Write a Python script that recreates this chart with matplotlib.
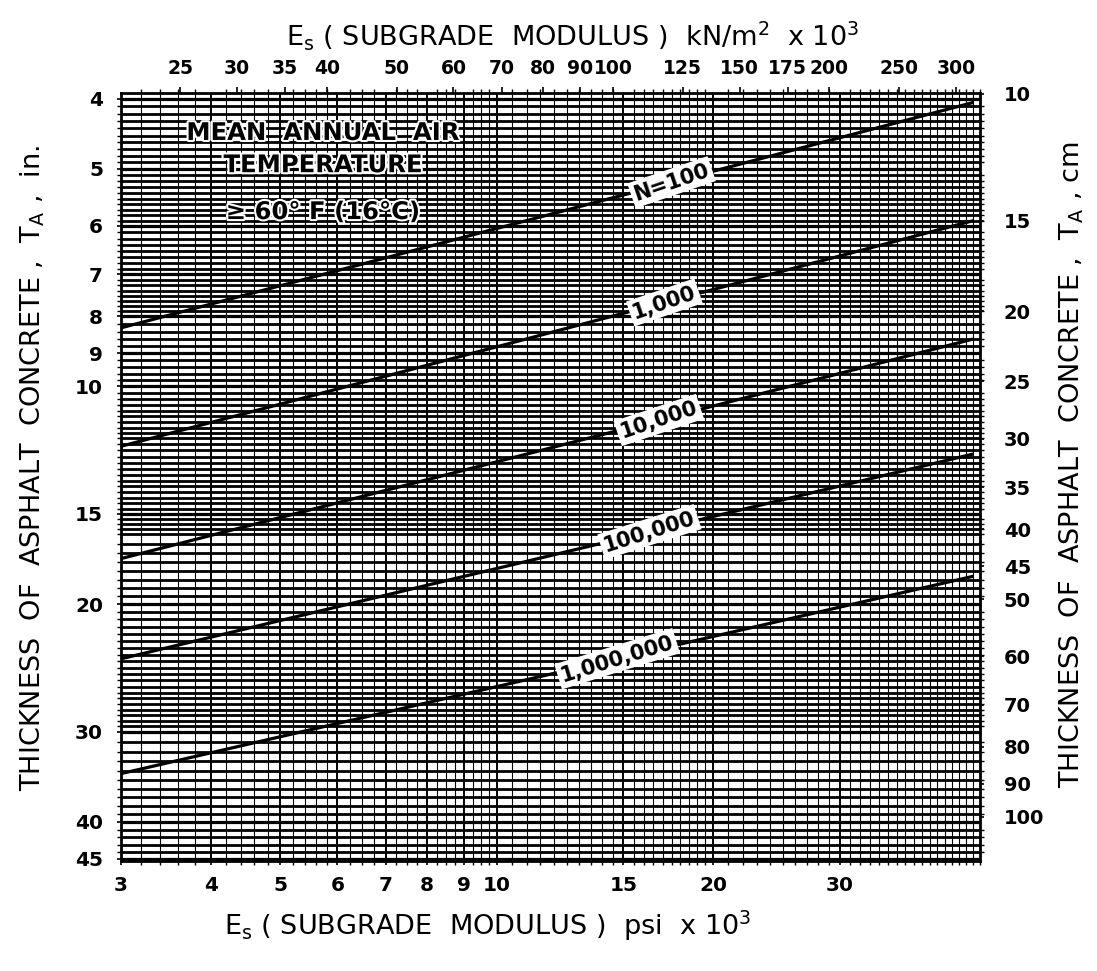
import numpy as np
import matplotlib
matplotlib.use("Agg")
import matplotlib.pyplot as plt
import matplotlib.patheffects as pe
from matplotlib.ticker import FixedLocator, NullFormatter

# ---------------- data ----------------
repetitions = ["N=100", "1,000", "10,000", "100,000", "1,000,000"]
es_psi_ends = [3.0, 46.0]                             # Es, psi x 10^3, line ends
thickness_at_left = [8.3, 12.1, 17.3, 23.8, 34.3]     # T_A (in) at Es = 3
thickness_at_right = [4.05, 5.9, 8.6, 12.4, 18.3]     # T_A (in) at Es = 46
label_es = [17.5, 17.1, 16.8, 16.3, 14.7]             # where the N labels sit

bottom_ticks = [3, 4, 5, 6, 7, 8, 9, 10, 15, 20, 30]
top_ticks = [25, 30, 35, 40, 50, 60, 70, 80, 90, 100, 125, 150, 175, 200, 250, 300]
left_ticks = [4, 5, 6, 7, 8, 9, 10, 15, 20, 30, 40, 45]
right_ticks = [10, 15, 20, 25, 30, 35, 40, 45, 50, 60, 70, 80, 90, 100]

KN_PER_PSI = 6.895
CM_PER_IN = 2.54

# ---------------- figure ----------------
W, H = 1097, 971
fig = plt.figure(figsize=(W / 100, H / 100), dpi=100)
fig.patch.set_facecolor("white")
ax = fig.add_axes([121 / W, 1 - 861 / H, (980 - 121) / W, (861 - 93) / H])
ax.set_xscale("log")
ax.set_yscale("log")
ax.set_xlim(3, 47)
ax.set_ylim(45.3, 3.93)

# dense graph-paper grid
def seg(a, b, s):
    return list(np.arange(a, b - 1e-9, s))

ygrid = seg(4, 6, 0.1) + seg(6, 8, 0.125) + seg(8, 12, 0.2) + seg(12, 16, 0.25) \
    + seg(16, 30, 0.5) + seg(30, 46, 1.0)
xgrid = seg(3, 6, 0.2) + seg(6, 10, 0.25) + seg(10, 20, 0.5) + seg(20, 48, 1.0)

ax.xaxis.set_major_locator(FixedLocator(bottom_ticks))
ax.set_xticklabels([str(t) for t in bottom_ticks])
ax.xaxis.set_minor_locator(FixedLocator(xgrid))
ax.xaxis.set_minor_formatter(NullFormatter())
ax.yaxis.set_major_locator(FixedLocator(left_ticks))
ax.set_yticklabels([str(t) for t in left_ticks])
ax.yaxis.set_minor_locator(FixedLocator(ygrid))
ax.yaxis.set_minor_formatter(NullFormatter())

ax.grid(axis="y", which="minor", color="black", lw=2.0)
ax.grid(axis="y", which="major", color="black", lw=2.3)
ax.grid(axis="x", which="minor", color="black", lw=0.8)
ax.grid(axis="x", which="major", color="black", lw=1.4)
ax.set_axisbelow(True)

ax.tick_params(axis="both", which="major", length=3, width=1.2, direction="out", pad=8)
ax.tick_params(axis="both", which="minor", length=3, width=1.0, direction="out",
               right=True, top=True)
for lab in ax.get_xticklabels() + ax.get_yticklabels():
    lab.set_fontsize(14.5)
    lab.set_fontweight("bold")
ax.tick_params(axis="y", pad=10)
for sp in ax.spines.values():
    sp.set_linewidth(2)

# secondary axes (metric)
secx = ax.secondary_xaxis("top", functions=(lambda x: x * KN_PER_PSI,
                                            lambda x: x / KN_PER_PSI))
secx.xaxis.set_major_locator(FixedLocator(top_ticks))
secx.set_xticklabels([str(t) for t in top_ticks])
secx.xaxis.set_minor_locator(FixedLocator([]))
secx.xaxis.set_minor_formatter(NullFormatter())
secx.tick_params(which="major", length=4, width=1.2, pad=7, labelsize=13.5)
for lab in secx.get_xticklabels():
    lab.set_fontweight("bold")

secy = ax.secondary_yaxis("right", functions=(lambda y: y * CM_PER_IN,
                                              lambda y: y / CM_PER_IN))
secy.yaxis.set_major_locator(FixedLocator(right_ticks))
secy.set_yticklabels([str(t) for t in right_ticks])
secy.yaxis.set_minor_formatter(NullFormatter())
secy.yaxis.set_minor_locator(FixedLocator([]))
secy.tick_params(which="major", length=3, width=1.2, pad=14, labelsize=14)
for lab in secy.get_yticklabels():
    lab.set_fontweight("bold")

# design lines
halo = [pe.withStroke(linewidth=3, foreground="white")]
for name, yl, yr, xl in zip(repetitions, thickness_at_left, thickness_at_right, label_es):
    ax.plot(es_psi_ends, [yl, yr], color="black", lw=2.3, zorder=5,
            solid_capstyle="butt")
    p1 = ax.transData.transform((es_psi_ends[0], yl))
    p2 = ax.transData.transform((es_psi_ends[1], yr))
    ang = np.degrees(np.arctan2(p2[1] - p1[1], p2[0] - p1[0]))
    ly = np.exp(np.interp(np.log(xl), np.log(es_psi_ends), np.log([yl, yr])))
    ax.text(xl, ly, name, rotation=ang + 4, rotation_mode="anchor",
            ha="center", va="center", fontsize=15, fontweight="bold", zorder=7,
            bbox=dict(boxstyle="square,pad=0.15", fc="white", ec="none"))

# temperature note
note = ["MEAN  ANNUAL  AIR", "TEMPERATURE", "≥ 60° F (16°C)"]
note_y = [0.948, 0.906, 0.845]
for t, yy in zip(note, note_y):
    ax.text(0.235, yy, t, transform=ax.transAxes, ha="center", va="center",
            fontsize=17.5, fontweight="bold", zorder=8, path_effects=halo)

# axis titles
lab_font = dict(fontsize=19.5, family="DejaVu Sans")
fig.text(0.522, 1 - 35 / H,
         r"E$_\mathregular{s}$ ( SUBGRADE  MODULUS )  kN/m$^\mathregular{2}$  x 10$^\mathregular{3}$",
         ha="center", va="center", **lab_font)
fig.text(488 / W, 1 - 926 / H,
         r"E$_\mathregular{s}$ ( SUBGRADE  MODULUS )  psi  x 10$^\mathregular{3}$",
         ha="center", va="center", **lab_font)
fig.text(33 / W, 1 - 468 / H,
         r"THICKNESS  OF  ASPHALT  CONCRETE ,  T$_\mathregular{A}$ ,  in.",
         rotation=90, ha="center", va="center", **lab_font)
fig.text(1072 / W, 1 - 465 / H,
         r"THICKNESS  OF  ASPHALT  CONCRETE ,  T$_\mathregular{A}$ , cm",
         rotation=90, ha="center", va="center", **lab_font)

fig.savefig("out.png", dpi=100, facecolor="white")
